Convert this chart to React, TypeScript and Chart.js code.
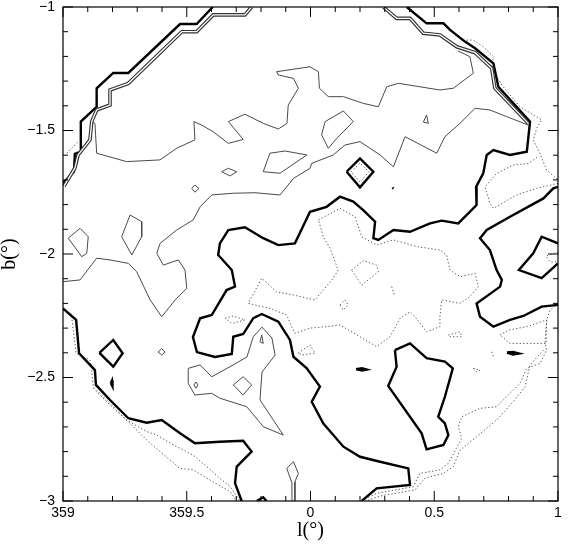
import React, { useEffect, useRef } from 'react';
import { Chart, registerables } from 'chart.js';

Chart.register(...registerables);

type P = [number, number];

// axis ticks (l in degrees relative to 0, b in degrees)
const xTickValues = [-1, -0.5, 0, 0.5, 1];
const xTickLabels = ['359', '359.5', '0', '0.5', '1'];
const yTickValues = [-3, -2.5, -2, -1.5, -1];
const yTickLabels = ['\u22123', '\u22122.5', '\u22122', '\u22121.5', '\u22121'];

// ---- thick contours ----
const thickTopLeft: P[] = [[-1.0,-1.713],[-0.956,-1.667],[-0.952,-1.595],[-0.931,-1.587],[-0.928,-1.464],[-0.864,-1.404],[-0.864,-1.329],[-0.797,-1.267],[-0.736,-1.267],[-0.527,-1.069],[-0.460,-1.069],[-0.395,-1.0]];
const thickCentral: P[] = [[0.389,-1.0],[0.469,-1.066],[0.537,-1.066],[0.564,-1.093],[0.624,-1.140],[0.665,-1.167],[0.739,-1.228],[0.759,-1.323],[0.887,-1.464],[0.874,-1.586],[0.806,-1.599],[0.739,-1.579],[0.712,-1.599],[0.698,-1.673],[0.669,-1.728],[0.671,-1.802],[0.597,-1.876],[0.530,-1.865],[0.483,-1.876],[0.402,-1.910],[0.335,-1.903],[0.274,-1.943],[0.254,-1.936],[0.261,-1.869],[0.213,-1.822],[0.173,-1.788],[0.119,-1.768],[0.065,-1.809],[-0.002,-1.829],[-0.063,-1.957],[-0.130,-1.964],[-0.191,-1.936],[-0.265,-1.892],[-0.332,-1.903],[-0.366,-1.957],[-0.373,-2.004],[-0.318,-2.065],[-0.305,-2.132],[-0.339,-2.146],[-0.399,-2.247],[-0.446,-2.260],[-0.475,-2.336],[-0.459,-2.397],[-0.386,-2.417],[-0.318,-2.405],[-0.312,-2.335],[-0.272,-2.324],[-0.231,-2.260],[-0.197,-2.243],[-0.130,-2.274],[-0.083,-2.348],[-0.069,-2.416],[-0.015,-2.463],[0.038,-2.537],[0.005,-2.598],[0.052,-2.686],[0.133,-2.780],[0.200,-2.821],[0.281,-2.841],[0.395,-2.868],[0.402,-2.935],[0.267,-2.949],[0.207,-3.0]];
const thickBottomLeft: P[] = [[-1.0,-2.220],[-0.947,-2.267],[-0.935,-2.402],[-0.871,-2.470],[-0.867,-2.530],[-0.810,-2.591],[-0.736,-2.665],[-0.662,-2.683],[-0.601,-2.672],[-0.527,-2.726],[-0.467,-2.766],[-0.366,-2.760],[-0.272,-2.756],[-0.238,-2.800],[-0.298,-2.861],[-0.305,-2.928],[-0.278,-3.0]];
const thickBottomBit: P[] = [[-0.217,-3.0],[-0.191,-2.985],[-0.178,-3.0]];
const thickRight: P[] = [[1.0,-1.728],[0.981,-1.734],[0.941,-1.775],[0.806,-1.849],[0.712,-1.903],[0.685,-1.936],[0.725,-1.984],[0.752,-2.065],[0.773,-2.105],[0.766,-2.132],[0.671,-2.200],[0.685,-2.254],[0.739,-2.294],[0.806,-2.267],[0.860,-2.251],[0.934,-2.213],[1.0,-2.206]];
const thickRightLoop: P[] = [[1.0,-1.957],[0.934,-1.930],[0.900,-1.997],[0.842,-2.065],[0.934,-2.098],[1.0,-2.038]];
const thickLowerLoop: P[] = [[0.341,-2.389],[0.402,-2.362],[0.469,-2.422],[0.543,-2.436],[0.575,-2.463],[0.543,-2.578],[0.516,-2.659],[0.543,-2.686],[0.557,-2.733],[0.537,-2.773],[0.469,-2.791],[0.449,-2.726],[0.314,-2.534],[0.348,-2.456],[0.341,-2.389]];
const thickDiamondUpper: P[] = [[0.146,-1.667],[0.200,-1.613],[0.254,-1.667],[0.200,-1.730],[0.146,-1.667]];
const thickDiamondLower: P[] = [[-0.853,-2.400],[-0.797,-2.348],[-0.759,-2.402],[-0.797,-2.456],[-0.853,-2.400]];
const thickBlobA: P[] = [[-0.807,-2.522],[-0.802,-2.512],[-0.798,-2.522],[-0.802,-2.536],[-0.807,-2.522]];
const thickBlobB: P[] = [[0.184,-2.466],[0.208,-2.462],[0.228,-2.468],[0.208,-2.472],[0.184,-2.466]];
const thickBlobC: P[] = [[0.794,-2.399],[0.818,-2.397],[0.842,-2.403],[0.818,-2.407],[0.794,-2.399]];
const thickDot: P[] = [[0.331,-1.731],[0.335,-1.735]];

// ---- double (paired) contours ----
const doubleTopLeft: P[] = [[-0.996,-1.725],[-0.952,-1.652],[-0.939,-1.599],[-0.891,-1.538],[-0.884,-1.464],[-0.864,-1.417],[-0.810,-1.397],[-0.810,-1.336],[-0.736,-1.309],[-0.520,-1.100],[-0.460,-1.100],[-0.393,-1.032],[-0.265,-1.032],[-0.238,-1.0]];
const doubleTopRight: P[] = [[0.294,-1.0],[0.348,-1.046],[0.402,-1.046],[0.456,-1.106],[0.523,-1.113],[0.591,-1.161],[0.665,-1.185],[0.732,-1.248],[0.745,-1.329],[0.880,-1.471]];

// ---- thin solid contours ----
const thinUpper: P[] = [[-0.884,-1.464],[-0.871,-1.471],[-0.864,-1.592],[-0.743,-1.626],[-0.608,-1.619],[-0.541,-1.572],[-0.467,-1.538],[-0.471,-1.464],[-0.440,-1.478],[-0.393,-1.505],[-0.332,-1.552],[-0.272,-1.536],[-0.332,-1.464],[-0.265,-1.434],[-0.191,-1.471],[-0.130,-1.494],[-0.095,-1.471],[-0.090,-1.397],[-0.049,-1.329],[-0.069,-1.289],[-0.130,-1.275],[-0.137,-1.262],[-0.002,-1.242],[0.032,-1.262],[0.036,-1.329],[0.072,-1.363],[0.133,-1.363],[0.213,-1.390],[0.274,-1.404],[0.308,-1.323],[0.355,-1.309],[0.442,-1.323],[0.523,-1.336],[0.577,-1.329],[0.658,-1.268],[0.644,-1.201],[0.596,-1.178]];
const thinMiddle: P[] = [[-1.0,-2.112],[-0.931,-2.105],[-0.864,-2.017],[-0.810,-2.024],[-0.736,-2.038],[-0.702,-2.072],[-0.648,-2.186],[-0.601,-2.254],[-0.547,-2.186],[-0.500,-2.139],[-0.507,-2.065],[-0.534,-2.024],[-0.595,-2.045],[-0.621,-1.997],[-0.608,-1.957],[-0.541,-1.903],[-0.474,-1.862],[-0.446,-1.809],[-0.399,-1.761],[-0.312,-1.754],[-0.224,-1.752],[-0.123,-1.761],[-0.069,-1.694],[-0.002,-1.653],[0.005,-1.633],[0.092,-1.599],[0.139,-1.559],[0.200,-1.545],[0.281,-1.599],[0.335,-1.647],[0.382,-1.525],[0.510,-1.592],[0.543,-1.525],[0.604,-1.471],[0.665,-1.410],[0.725,-1.417],[0.793,-1.444],[0.880,-1.478]];
const thinLoop1: P[] = [[-0.979,-1.936],[-0.931,-1.896],[-0.898,-1.930],[-0.904,-1.997],[-0.924,-2.011],[-0.979,-1.936]];
const thinLoop2: P[] = [[-0.763,-1.930],[-0.729,-1.842],[-0.682,-1.869],[-0.682,-1.930],[-0.722,-2.004],[-0.763,-1.930]];
const thinLoop3: P[] = [[-0.191,-1.667],[-0.164,-1.592],[-0.103,-1.583],[-0.015,-1.599],[-0.123,-1.673],[-0.191,-1.667]];
const thinLoop4: P[] = [[0.045,-1.518],[0.059,-1.464],[0.133,-1.421],[0.173,-1.464],[0.106,-1.532],[0.072,-1.572],[0.045,-1.518]];
const thinLoop5: P[] = [[-0.359,-1.667],[-0.332,-1.653],[-0.298,-1.667],[-0.325,-1.684],[-0.359,-1.667]];
const thinLoop6: P[] = [[-0.480,-1.734],[-0.467,-1.721],[-0.451,-1.734],[-0.467,-1.750],[-0.480,-1.734]];
const thinLoop7: P[] = [[0.469,-1.437],[0.456,-1.466],[0.476,-1.471],[0.469,-1.437]];
const thinLoop8: P[] = [[-0.257,-2.417],[-0.231,-2.335],[-0.196,-2.296],[-0.156,-2.340],[-0.143,-2.409],[-0.196,-2.478],[-0.204,-2.591],[-0.110,-2.733],[-0.191,-2.699],[-0.258,-2.618],[-0.366,-2.584],[-0.399,-2.564],[-0.467,-2.571],[-0.494,-2.524],[-0.494,-2.463],[-0.446,-2.449],[-0.399,-2.497],[-0.312,-2.449],[-0.257,-2.417]];
const thinLoop9: P[] = [[-0.312,-2.530],[-0.272,-2.497],[-0.238,-2.530],[-0.272,-2.571],[-0.312,-2.530]];
const thinLoop10: P[] = [[-0.616,-2.397],[-0.601,-2.383],[-0.588,-2.397],[-0.601,-2.409],[-0.616,-2.397]];
const thinLoop11: P[] = [[-0.471,-2.530],[-0.463,-2.518],[-0.455,-2.530],[-0.463,-2.543],[-0.471,-2.530]];
const thinLoop12: P[] = [[-0.197,-2.328],[-0.204,-2.355],[-0.191,-2.362],[-0.197,-2.328]];
const thinSpike: P[] = [[-0.075,-3.0],[-0.075,-2.927],[-0.096,-2.868],[-0.069,-2.841],[-0.049,-2.888],[-0.063,-2.922],[-0.063,-3.0]];

// ---- dotted contours ----
const dotTopLeft: P[] = [[-0.985,-1.592],[-0.938,-1.545]];
const dotRightOuter: P[] = [[0.617,-1.134],[0.658,-1.134],[0.698,-1.161],[0.739,-1.201],[0.732,-1.248],[0.773,-1.316],[0.846,-1.404],[0.934,-1.457],[0.914,-1.491],[0.900,-1.538],[0.927,-1.592],[0.954,-1.660],[1.0,-1.700]];
const dotRightLoop: P[] = [[1.0,-1.714],[0.914,-1.734],[0.833,-1.761],[0.739,-1.815],[0.725,-1.795],[0.705,-1.728],[0.752,-1.673],[0.819,-1.640],[0.880,-1.633],[0.919,-1.607]];
const dotDiamond: P[] = [[0.164,-1.667],[0.200,-1.632],[0.236,-1.667],[0.200,-1.709],[0.164,-1.667]];
const dotRightEdge: P[] = [[1.0,-1.992],[0.952,-2.008],[0.968,-2.032],[1.0,-2.032]];
const dotCentral: P[] = [[0.032,-1.862],[0.119,-1.815],[0.180,-1.849],[0.207,-1.930],[0.267,-1.964],[0.335,-1.943],[0.429,-1.970],[0.523,-1.984],[0.550,-2.004],[0.564,-2.065],[0.604,-2.092],[0.665,-2.078],[0.678,-2.132],[0.644,-2.173],[0.604,-2.200],[0.530,-2.186],[0.523,-2.254],[0.523,-2.294],[0.469,-2.315],[0.422,-2.254],[0.402,-2.234],[0.362,-2.260],[0.321,-2.335],[0.267,-2.375],[0.200,-2.335],[0.119,-2.287],[0.065,-2.294],[-0.002,-2.300],[-0.063,-2.321],[-0.076,-2.294],[-0.096,-2.247],[-0.164,-2.220],[-0.251,-2.200],[-0.244,-2.186],[-0.197,-2.098],[-0.137,-2.153],[-0.069,-2.166],[0.018,-2.186],[0.092,-2.098],[0.112,-2.065],[0.079,-1.977],[0.052,-1.930],[0.032,-1.862]];
const dotSmallA: P[] = [[-0.345,-2.260],[-0.312,-2.251],[-0.265,-2.267],[-0.318,-2.281],[-0.345,-2.260]];
const dotSmallB: P[] = [[0.166,-2.065],[0.213,-2.027],[0.267,-2.045],[0.274,-2.072],[0.207,-2.126],[0.166,-2.065]];
const dotSmallC: P[] = [[0.119,-2.206],[0.139,-2.186],[0.152,-2.206],[0.131,-2.227],[0.119,-2.206]];
const dotSmallD: P[] = [[-0.050,-2.401],[-0.002,-2.368],[0.018,-2.401],[-0.034,-2.409],[-0.050,-2.401]];
const dotSmallE: P[] = [[0.328,-2.132],[0.341,-2.173]];
const dotSmallF: P[] = [[0.557,-2.328],[0.604,-2.315],[0.611,-2.335],[0.564,-2.335],[0.557,-2.328]];
const dotSmallG: P[] = [[0.732,-2.396],[0.739,-2.416]];
const dotSmallH: P[] = [[0.658,-2.463],[0.685,-2.470],[0.671,-2.477],[0.658,-2.463]];
const dotLowerRightOuter: P[] = [[1.0,-2.202],[0.968,-2.227],[0.954,-2.267],[0.947,-2.362],[0.954,-2.389],[0.927,-2.443],[0.874,-2.463],[0.846,-2.524],[0.806,-2.564],[0.752,-2.618],[0.685,-2.625],[0.611,-2.659],[0.597,-2.699],[0.611,-2.746],[0.557,-2.847],[0.523,-2.874],[0.483,-2.881],[0.442,-2.888],[0.415,-2.942],[0.267,-2.969],[0.207,-3.0]];
const dotLowerRightInner: P[] = [[0.941,-2.389],[0.887,-2.449],[0.867,-2.537],[0.819,-2.598],[0.752,-2.672],[0.671,-2.740],[0.604,-2.794],[0.577,-2.861],[0.537,-2.888],[0.463,-2.907],[0.422,-2.955],[0.281,-2.980],[0.224,-3.0]];
const dotRightMidLoop: P[] = [[0.766,-2.328],[0.799,-2.308],[0.874,-2.294],[0.954,-2.267],[0.952,-2.362],[0.887,-2.362],[0.806,-2.362],[0.766,-2.328]];
const dotBottomLeftUpper: P[] = [[-1.0,-2.227],[-0.965,-2.254],[-0.947,-2.402],[-0.891,-2.429],[-0.884,-2.470],[-0.878,-2.537],[-0.817,-2.598],[-0.743,-2.672],[-0.662,-2.719],[-0.621,-2.733],[-0.554,-2.773],[-0.474,-2.814],[-0.419,-2.861],[-0.373,-2.902],[-0.325,-2.942],[-0.285,-3.0]];
const dotBottomLeftLower: P[] = [[-0.878,-2.544],[-0.810,-2.611],[-0.729,-2.686],[-0.662,-2.753],[-0.608,-2.800],[-0.527,-2.868],[-0.474,-2.874],[-0.406,-2.915],[-0.325,-2.962],[-0.298,-3.0]];

const thickContours: P[][] = [thickTopLeft, thickCentral, thickBottomLeft, thickBottomBit, thickRight, thickRightLoop, thickLowerLoop, thickDiamondUpper, thickDiamondLower, thickBlobA, thickBlobB, thickBlobC, thickDot];
const doubleContours: P[][] = [doubleTopLeft, doubleTopRight];
const thinContours: P[][] = [thinUpper, thinMiddle, thinLoop1, thinLoop2, thinLoop3, thinLoop4, thinLoop5, thinLoop6, thinLoop7, thinLoop8, thinLoop9, thinLoop10, thinLoop11, thinLoop12, thinSpike];
const dottedContours: P[][] = [dotTopLeft, dotRightOuter, dotRightLoop, dotDiamond, dotRightEdge, dotCentral, dotSmallA, dotSmallB, dotSmallC, dotSmallD, dotSmallE, dotSmallF, dotSmallG, dotSmallH, dotLowerRightOuter, dotLowerRightInner, dotRightMidLoop, dotBottomLeftUpper, dotBottomLeftLower];

const toPts = (c: P[]) => c.map(([x, y]) => ({ x, y }));

const lineBase = {
  showLine: true,
  pointRadius: 0,
  pointHoverRadius: 0,
  fill: false,
  tension: 0,
  clip: 0,
  borderJoinStyle: 'miter' as const,
};

const framePlugin = {
  id: 'frameTicks',
  afterDatasetsDraw(chart: any) {
    const { ctx, chartArea: a, scales } = chart;
    const xs = scales.x;
    const ys = scales.y;
    ctx.save();
    ctx.strokeStyle = '#000';
    ctx.lineWidth = 1.2;
    ctx.strokeRect(a.left, a.top, a.right - a.left, a.bottom - a.top);
    ctx.lineWidth = 1;
    ctx.beginPath();
    for (let i = 0; i <= 20; i++) {
      const major = i % 5 === 0;
      const len = major ? 10 : 5;
      const px = xs.getPixelForValue(-1 + i * 0.1);
      ctx.moveTo(px, a.bottom);
      ctx.lineTo(px, a.bottom - len);
      ctx.moveTo(px, a.top);
      ctx.lineTo(px, a.top + len);
      const py = ys.getPixelForValue(-3 + i * 0.1);
      ctx.moveTo(a.left, py);
      ctx.lineTo(a.left + len, py);
      ctx.moveTo(a.right, py);
      ctx.lineTo(a.right - len, py);
    }
    ctx.stroke();
    ctx.restore();
  },
};

export default function App() {
  const ref = useRef<HTMLCanvasElement | null>(null);

  useEffect(() => {
    if (!ref.current) return;
    const datasets: any[] = [];
    doubleContours.forEach((c) =>
      datasets.push({ ...lineBase, data: toPts(c), borderColor: '#ffffff', borderWidth: 1.3, order: 0 })
    );
    doubleContours.forEach((c) =>
      datasets.push({ ...lineBase, data: toPts(c), borderColor: '#333333', borderWidth: 3.6, order: 1 })
    );
    thickContours.forEach((c) =>
      datasets.push({ ...lineBase, data: toPts(c), borderColor: '#000000', borderWidth: 2.4, order: 2 })
    );
    thinContours.forEach((c) =>
      datasets.push({ ...lineBase, data: toPts(c), borderColor: '#4a4a4a', borderWidth: 1, order: 3 })
    );
    dottedContours.forEach((c) =>
      datasets.push({ ...lineBase, data: toPts(c), borderColor: '#555555', borderWidth: 1, borderDash: [1.3, 2.2], order: 4 })
    );

    const tickFont = { family: '"Liberation Sans", Arial, Helvetica, sans-serif', size: 14 };
    const titleFont = { family: '"Liberation Serif", "Times New Roman", "DejaVu Serif", serif', size: 20, lineHeight: 1 };

    const chart = new Chart(ref.current, {
      type: 'scatter',
      data: { datasets },
      options: {
        animation: false,
        responsive: false,
        maintainAspectRatio: false,
        events: [],
        layout: { padding: { left: 0, top: 7, right: 12, bottom: 0 } },
        plugins: { legend: { display: false }, tooltip: { enabled: false } },
        scales: {
          x: {
            type: 'linear',
            min: -1,
            max: 1,
            afterBuildTicks: (s: any) => {
              s.ticks = xTickValues.map((v) => ({ value: v }));
            },
            afterFit: (s: any) => {
              s.height = 45;
              s.paddingLeft = 0;
              s.paddingRight = 0;
            },
            ticks: {
              autoSkip: false,
              maxRotation: 0,
              padding: 4,
              color: '#000',
              font: tickFont,
              callback: (v: any) => {
                const i = xTickValues.findIndex((t) => Math.abs(t - Number(v)) < 1e-6);
                return i >= 0 ? xTickLabels[i] : '';
              },
            },
            grid: { display: false, drawTicks: false },
            border: { display: false },
            title: { display: true, text: 'l(\u00b0)', color: '#000', font: titleFont, padding: { top: 0, bottom: 5 } },
          },
          y: {
            type: 'linear',
            min: -3,
            max: -1,
            afterBuildTicks: (s: any) => {
              s.ticks = yTickValues.map((v) => ({ value: v }));
            },
            afterFit: (s: any) => {
              s.width = 63;
              s.paddingTop = 0;
              s.paddingBottom = 0;
            },
            ticks: {
              autoSkip: false,
              padding: 8,
              color: '#000',
              font: tickFont,
              callback: (v: any) => {
                const i = yTickValues.findIndex((t) => Math.abs(t - Number(v)) < 1e-6);
                return i >= 0 ? yTickLabels[i] : '';
              },
            },
            grid: { display: false, drawTicks: false },
            border: { display: false },
            title: { display: true, text: 'b(\u00b0)', color: '#000', font: titleFont, padding: { top: 0, bottom: 0 } },
          },
        },
      },
      plugins: [framePlugin],
    } as any);
    return () => chart.destroy();
  }, []);

  return (
    <div style={{ position: 'absolute', left: 0, top: 0, width: 570, height: 546, background: '#fff' }}>
      <canvas ref={ref} width={570} height={546} />
    </div>
  );
}
